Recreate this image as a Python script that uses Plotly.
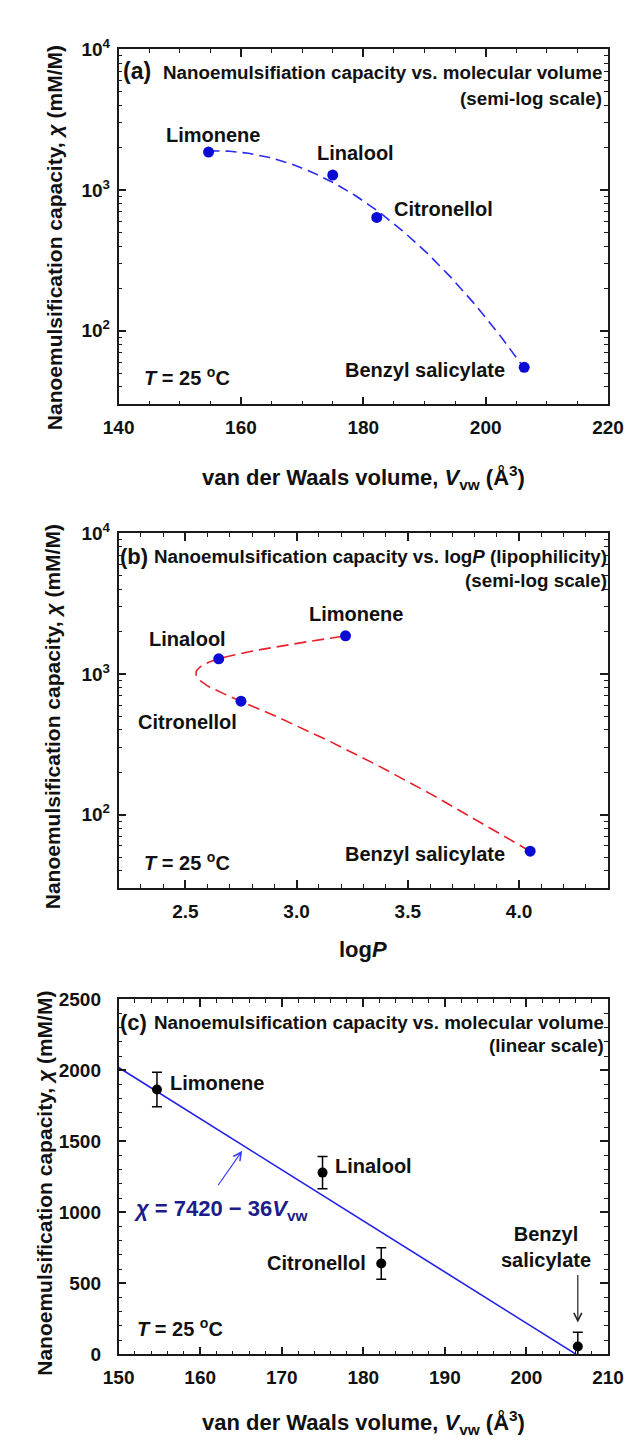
import numpy as np
import plotly.graph_objects as go

# ---------------- data ----------------
compounds = ["Limonene", "Linalool", "Citronellol", "Benzyl salicylate"]
v_vw = [154.7, 175.0, 182.2, 206.3]          # van der Waals volume (Å^3)
log_p = [3.22, 2.65, 2.75, 4.05]              # logP
chi = [1865, 1280, 640, 55]                   # nanoemulsification capacity (mM/M)
chi_err = [122, 113, 111, 100]
fit_intercept = 7420
fit_slope = -36

log_ticks = [100, 1000, 10000]
log_ticktext = ["10<sup>2</sup>", "10<sup>3</sup>", "10<sup>4</sup>"]
log_minor = [m * d for d in (10, 100, 1000) for m in range(2, 10) if m * d >= 30]

W, H = 643, 1447
FONT = "Liberation Sans, Arial, sans-serif"
INK = "#1a1a1a"


def px(x):
    return x / W


def py(y):
    return 1 - y / H


def natural_spline(xk, yk, xs):
    """Natural cubic spline through knots (xk ascending), evaluated at xs."""
    xk = np.asarray(xk, float)
    yk = np.asarray(yk, float)
    n = len(xk)
    h = np.diff(xk)
    A = np.zeros((n, n))
    rhs = np.zeros(n)
    A[0, 0] = A[-1, -1] = 1
    for i in range(1, n - 1):
        A[i, i - 1] = h[i - 1]
        A[i, i] = 2 * (h[i - 1] + h[i])
        A[i, i + 1] = h[i]
        rhs[i] = 6 * ((yk[i + 1] - yk[i]) / h[i] - (yk[i] - yk[i - 1]) / h[i - 1])
    M = np.linalg.solve(A, rhs)
    out = []
    for x in xs:
        i = int(np.clip(np.searchsorted(xk, x, side="right") - 1, 0, n - 2))
        t1 = xk[i + 1] - x
        t0 = x - xk[i]
        out.append(M[i] * t1 ** 3 / (6 * h[i]) + M[i + 1] * t0 ** 3 / (6 * h[i])
                   + (yk[i] / h[i] - M[i] * h[i] / 6) * t1
                   + (yk[i + 1] / h[i] - M[i + 1] * h[i] / 6) * t0)
    return np.array(out)


fig = go.Figure()

# ---------------- panel (a) ----------------
coef = np.polyfit(v_vw, np.log10(chi), 2)
vv = np.linspace(min(v_vw), max(v_vw), 120)
fig.add_trace(go.Scatter(x=vv, y=10 ** np.polyval(coef, vv), mode="lines",
                         line=dict(color="#2b2bf0", width=1.6, dash="11px,6px"),
                         xaxis="x", yaxis="y", hoverinfo="skip"))
fig.add_trace(go.Scatter(x=v_vw, y=chi, mode="markers",
                         marker=dict(color="#0b0bd6", size=11),
                         xaxis="x", yaxis="y"))

# ---------------- panel (b) ----------------
order = np.argsort(chi)
logchi_sorted = np.log10([chi[i] for i in order])
logp_sorted = [log_p[i] for i in order]
ll = np.linspace(logchi_sorted[0], logchi_sorted[-1], 200)
fig.add_trace(go.Scatter(x=natural_spline(logchi_sorted, logp_sorted, ll), y=10 ** ll,
                         mode="lines",
                         line=dict(color="#e8202a", width=1.6, dash="12px,6px"),
                         xaxis="x2", yaxis="y2", hoverinfo="skip"))
fig.add_trace(go.Scatter(x=log_p, y=chi, mode="markers",
                         marker=dict(color="#0b0bd6", size=11),
                         xaxis="x2", yaxis="y2"))

# ---------------- panel (c) ----------------
x_root = fit_intercept / -fit_slope
fig.add_trace(go.Scatter(x=[150, x_root],
                         y=[fit_intercept + fit_slope * 150, fit_intercept + fit_slope * x_root],
                         mode="lines", line=dict(color="#1f1fe6", width=1.6),
                         xaxis="x3", yaxis="y3", hoverinfo="skip"))
fig.add_trace(go.Scatter(x=v_vw, y=chi, mode="markers",
                         marker=dict(color="black", size=10),
                         error_y=dict(type="data", array=chi_err, color="black",
                                      thickness=1.5, width=5),
                         xaxis="x3", yaxis="y3"))


def axis(**kw):
    d = dict(showline=True, linewidth=1.6, linecolor=INK, mirror="allticks",
             ticks="inside", ticklen=8, tickwidth=1.5, tickcolor=INK,
             showgrid=False, zeroline=False,
             tickfont=dict(family=FONT, size=19, color="#111", weight="bold"))
    d.update(kw)
    return d


def minor(**kw):
    d = dict(ticks="inside", ticklen=4, tickwidth=1.2, tickcolor=INK, showgrid=False)
    d.update(kw)
    return d


xdom = [px(108), px(623)]
fig.update_layout(
    width=W, height=H, margin=dict(l=0, r=0, t=0, b=0),
    paper_bgcolor="white", plot_bgcolor="white", showlegend=False,
    font=dict(family=FONT, color="#111"),
    xaxis=axis(domain=xdom, anchor="y", range=[140, 220], dtick=20, tick0=140,
               minor=minor(dtick=5), ticklabelstandoff=5),
    yaxis=axis(domain=[py(398), py(37)], anchor="x", type="log",
               range=[np.log10(30), 4], tickmode="array", tickvals=log_ticks,
               ticktext=log_ticktext, minor=minor(tickmode="array", tickvals=log_minor),
               ticklabelstandoff=3),
    xaxis2=axis(domain=xdom, anchor="y2", range=[2.2, 4.4], tickmode="array",
                tickvals=[2.5, 3.0, 3.5, 4.0], ticktext=["2.5", "3.0", "3.5", "4.0"],
                minor=minor(dtick=0.1, tick0=2.2), ticklabelstandoff=5),
    yaxis2=axis(domain=[py(890), py(529)], anchor="x2", type="log",
                range=[np.log10(30), 4], tickmode="array", tickvals=log_ticks,
                ticktext=log_ticktext, minor=minor(tickmode="array", tickvals=log_minor),
                ticklabelstandoff=3),
    xaxis3=axis(domain=xdom, anchor="y3", range=[150, 210], dtick=10, tick0=150,
                minor=minor(dtick=2), ticklabelstandoff=5),
    yaxis3=axis(domain=[py(1364), py(1003)], anchor="x3", range=[0, 2500],
                dtick=500, minor=minor(dtick=100), ticklabelstandoff=12),
)

anns = []


def paper_text(text, x, y, size=20, xanchor="center", angle=0, color="#111"):
    anns.append(dict(text=text, x=px(x), y=py(y), xref="paper", yref="paper",
                     xanchor=xanchor, yanchor="middle", showarrow=False,
                     textangle=angle, font=dict(family=FONT, size=size, color=color)))


def data_text(text, x, y, xs, ys, ax, ay, xanchor="center", size=20):
    anns.append(dict(text=text, x=x, y=y, xref=ax, yref=ay, xshift=xs, yshift=ys,
                     xanchor=xanchor, yanchor="middle", showarrow=False,
                     font=dict(family=FONT, size=size, color="#111")))


ytitle = "<b>Nanoemulsification capacity, <i>χ</i> (mM/M)</b>"
xtitle_v = "<b>van der Waals volume, <i>V</i><sub>vw</sub> (Å<sup>3</sup>)</b>"
temp = "<b><i>T</i> = 25 <sup>o</sup>C</b>"

# axis titles
paper_text(ytitle, 40, 229, size=21, angle=-90)
paper_text(ytitle, 38, 716, size=21, angle=-90)
paper_text(ytitle, 30, 1190, size=21, angle=-90)
paper_text(xtitle_v, 366, 472, size=22)
paper_text("<b>log<i>P</i></b>", 365, 952, size=22)
paper_text(xtitle_v, 366, 1433, size=22)

# panel headings
HS = 18.8
paper_text("<b>(a)</b>", 111, 59, size=23, xanchor="left")
paper_text("<b>Nanoemulsifiation capacity vs. molecular volume</b>", 619, 60, size=HS, xanchor="right")
paper_text("<b>(semi-log scale)</b>", 619, 87, size=HS, xanchor="right")
paper_text("<b>(b)</b>", 107, 553, size=22, xanchor="left")
paper_text("<b>Nanoemulsification capacity vs. log<i>P</i> (lipophilicity)</b>", 624, 553, size=HS, xanchor="right")
paper_text("<b>(semi-log scale)</b>", 624, 577, size=HS, xanchor="right")
paper_text("<b>(c)</b>", 107, 1027, size=22, xanchor="left")
paper_text("<b>Nanoemulsification capacity vs. molecular volume</b>", 621, 1027, size=HS, xanchor="right")
paper_text("<b>(linear scale)</b>", 621, 1050, size=HS, xanchor="right")

paper_text(temp, 133, 370, size=20, xanchor="left")
paper_text(temp, 133, 863, size=20, xanchor="left")
paper_text(temp, 125, 1337, size=20, xanchor="left")

# point labels (a)
a_off = [(4, 17, "center"), (23, 22, "center"), (15, 8, "left"), (-17, -3, "right")]
for name, xv, yv, (xs, ys, anc) in zip(compounds, v_vw, chi, a_off):
    data_text(f"<b>{name}</b>", xv, np.log10(yv), xs, ys, "x", "y", anc)
# point labels (b)
b_off = [(10, 22, "center"), (-31, 20, "center"), (-53, -21, "center"), (-23, -3, "right")]
for name, xv, yv, (xs, ys, anc) in zip(compounds, log_p, chi, b_off):
    data_text(f"<b>{name}</b>", xv, np.log10(yv), xs, ys, "x2", "y2", anc)
# point labels (c)
c_labels = ["Limonene", "Linalool", "Citronellol", "Benzyl<br>salicylate"]
c_off = [(11, 7, "left"), (10, 7, "left"), (-13, 0, "right"), (-32, 100, "center")]
for name, xv, yv, (xs, ys, anc) in zip(c_labels, v_vw, chi, c_off):
    data_text(f"<b>{name}</b>", xv, yv, xs, ys, "x3", "y3", anc)

# arrow to benzyl salicylate (c)
anns.append(dict(x=v_vw[3], y=chi[3], xref="x3", yref="y3", text="", showarrow=True,
                 ax=0, ay=-73, standoff=24, arrowhead=5, arrowsize=1.3,
                 arrowwidth=1.2, arrowcolor="#222"))
# equation + arrow (c)
v_arrow = 165.5
anns.append(dict(x=v_arrow, y=fit_intercept + fit_slope * v_arrow, xref="x3", yref="y3",
                 text="", showarrow=True, ax=-28, ay=40, standoff=5, arrowhead=5,
                 arrowsize=1.3, arrowwidth=1.2, arrowcolor="#3a3aff"))
paper_text("<b><i>χ</i> = 7420 − 36<i>V</i><sub>vw</sub></b>", 122, 1217, size=22,
           xanchor="left", color="#1c1c8a")

fig.update_layout(annotations=anns)
fig.write_html("out.html")
